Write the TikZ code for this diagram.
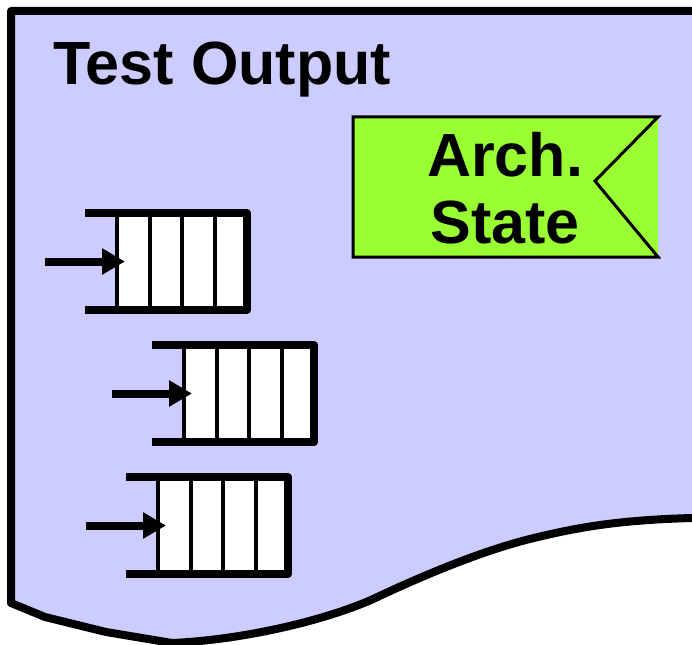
\documentclass[tikz,border=0pt]{standalone}
\usepackage{fontspec}
\setmainfont{Liberation Sans}
\usetikzlibrary{arrows.meta}
\definecolor{docfill}{HTML}{CCCCFF}
\definecolor{archfill}{HTML}{99FF33}

\tikzset{
  cell/.style={draw,fill=white,line width=4pt,minimum width=32.5pt,minimum height=97pt,inner sep=0pt,outer sep=0pt},
  qframe/.style={line width=8pt,line join=round},
  feed/.style={line width=8pt,-{Triangle[length=23pt,width=25pt]},shorten >=-8pt},
  bigtext/.style={font=\fontsize{61}{67}\selectfont\bfseries}
}

\begin{document}
\begin{tikzpicture}[x=1pt,y=-1pt]
\clip (0,0) rectangle (692,644);
% document sheet
\filldraw[fill=docfill,line width=8pt,line join=round] (720,11) -- (11,11) -- (11,603) -- (45,617) -- (106,632) -- (172,643)
  .. controls (240,640) and (320,622) .. (371,600)
  .. controls (430,572) and (490,548) .. (538,537)
  .. controls (580,527) and (620,520) .. (692,518) -- (720,518) -- cycle;
\node[bigtext,anchor=base west,inner sep=0pt] (title) at (53,85) {Test Output};
% architectural state
\node[fill=archfill,minimum width=305pt,minimum height=140pt,inner sep=0pt,outer sep=0pt,name=arch] at (505.5,187) {};
\coordinate (notch) at (595,181);
\draw[line width=3pt] (arch.north east) -- (arch.north west) -- (arch.south west) -- (arch.south east) -- (notch) -- cycle;
\node[bigtext,align=center,name=archtext] at (505,188) {Arch.\\State};
% queue 1
\node[cell,name=q1c1] at (133.25,261.5) {};
\node[cell,name=q1c2] at (165.75,261.5) {};
\node[cell,name=q1c3] at (198.25,261.5) {};
\node[cell,name=q1c4] at (230.75,261.5) {};
\draw[qframe] (q1c1.north west) ++(-32,0) -| (q1c4.south east) -- ++(-162,0);
\coordinate (q1in) at (45,261.5);
\draw[feed] (q1in) -- (q1c1.west);
% queue 2
\node[cell,name=q2c1] at (200.25,393.5) {};
\node[cell,name=q2c2] at (232.75,393.5) {};
\node[cell,name=q2c3] at (265.25,393.5) {};
\node[cell,name=q2c4] at (297.75,393.5) {};
\draw[qframe] (q2c1.north west) ++(-32,0) -| (q2c4.south east) -- ++(-162,0);
\coordinate (q2in) at (112,393.5);
\draw[feed] (q2in) -- (q2c1.west);
% queue 3
\node[cell,name=q3c1] at (174.25,525.5) {};
\node[cell,name=q3c2] at (206.75,525.5) {};
\node[cell,name=q3c3] at (239.25,525.5) {};
\node[cell,name=q3c4] at (271.75,525.5) {};
\draw[qframe] (q3c1.north west) ++(-32,0) -| (q3c4.south east) -- ++(-162,0);
\coordinate (q3in) at (86,525.5);
\draw[feed] (q3in) -- (q3c1.west);
\end{tikzpicture}
\end{document}
